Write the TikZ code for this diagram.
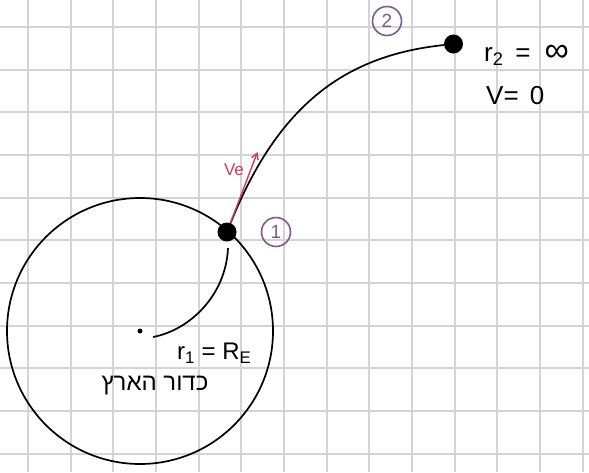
\documentclass[tikz,border=0pt]{standalone}
\usepackage{fontspec}
\setmainfont{Liberation Sans}
\newfontfamily\hebfont[Script=Hebrew]{Liberation Sans}
\TeXXeTstate=1
\usetikzlibrary{arrows.meta, positioning}
\definecolor{gridgray}{RGB}{212,212,212}
\definecolor{vered}{RGB}{200,64,90}
\definecolor{markpurple}{RGB}{126,90,142}

\begin{document}
\begin{tikzpicture}[
    x=1pt, y=-1pt,
    line/.style={black, line width=1.7pt},
    dot/.style={circle, fill=black, minimum size=19pt, inner sep=0pt},
    smalldot/.style={circle, fill=black, minimum size=5pt, inner sep=0pt},
    earth/.style={circle, draw=black, line width=1.7pt, minimum size=266pt, inner sep=0pt},
    marker/.style={circle, draw=markpurple, line width=1.6pt, text=markpurple,
        minimum size=29pt, inner sep=0pt, font=\fontsize{19}{19}\selectfont},
    value/.style={anchor=west, inner sep=0pt, font=\fontsize{26}{28}\selectfont},
    vearrow/.style={-{Straight Barb[length=6pt, width=7pt]}, vered, line width=1.4pt}
]
\useasboundingbox[fill=white] (0,0) rectangle (589,472);

% squared paper
\foreach \i in {0,...,13}
    \draw[gridgray, line width=2pt] ({28+42.67*\i},0) -- ({28+42.67*\i},472);
\foreach \j in {0,...,10}
    \draw[gridgray, line width=2pt] (0,{27+42.67*\j}) -- (589,{27+42.67*\j});

% earth
\node[earth] (earth) at (140,331) {};
\node[smalldot] (c) at (140,331) {};
\node[dot] (p1) at (227,232) {};
\node[dot] (p2) at (453.5,44) {};

\coordinate (rstart) at (153,337);
\coordinate (rend) at (228,248);
\coordinate (vetip) at (257.5,152);

% paths
\draw[line] (p1) .. controls (280,100) and (350,55) .. (p2);
\draw[line] (rstart) .. controls (190,330) and (226,295) .. (rend);
\draw[vearrow] (p1) -- (vetip);

% labels
\node[text=vered, font=\fontsize{17}{17}\selectfont, inner sep=0pt] (ve) at (234,170) {Ve};
\node[marker, right=24pt of p1] (n1) {1};
\node[marker] (n2) at (387,21) {2};
\node[value] (r2) at (484,55) {r\textsubscript{2}\hspace{12pt}=\hspace{14pt}{\fontsize{34}{34}\selectfont ∞}};
\node[value] (v2) at (486,96) {V= \hspace{4pt}0};
\node[value, font=\fontsize{24}{26}\selectfont] (r1) at (177,353) {r\textsubscript{1} = R\textsubscript{E}};
\node[font=\fontsize{24}{26}\selectfont\hebfont] (earthname) at (155,386) {\beginR כדור הארץ\endR};

\end{tikzpicture}
\end{document}
